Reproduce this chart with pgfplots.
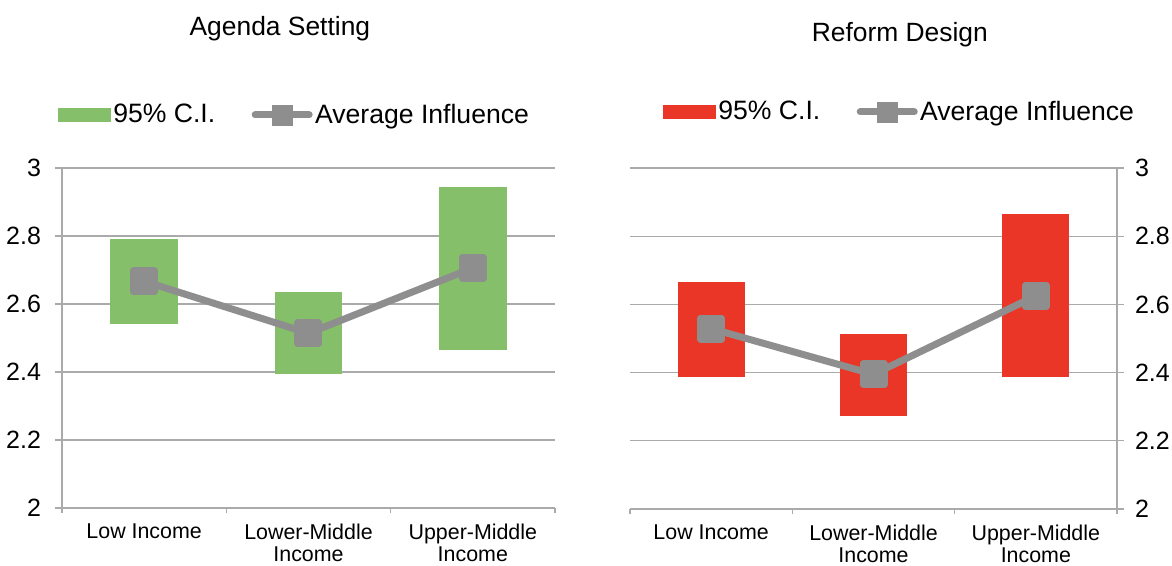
\documentclass[border=0pt]{standalone}
\usepackage{pgfplots}
\pgfplotsset{compat=1.18}
\usepackage{pgfplotstable}
\usepackage{fontspec}
\setmainfont{Liberation Sans}
\definecolor{cigreen}{RGB}{134,191,106}
\definecolor{cired}{RGB}{233,54,38}
\definecolor{avg}{RGB}{142,142,142}
\definecolor{gridgray}{RGB}{170,170,170}

\pgfplotstableread{
x lo hi mean
0 2.542 2.790 2.667
1 2.394 2.635 2.514
2 2.465 2.945 2.706
}\agenda
\pgfplotstableread{
x lo hi mean
0 2.388 2.666 2.529
1 2.274 2.513 2.395
2 2.386 2.864 2.625
}\reform

\pgfplotsset{
  common/.style={
    scale only axis,
    xmin=-0.5, xmax=2.5, ymin=2, ymax=3,
    ytick={2,2.2,2.4,2.6,2.8,3},
    xtick={0,1,2},
    xticklabels={Low Income,Lower-Middle\\Income,Upper-Middle\\Income},
    minor xtick={-0.5,0.5,1.5,2.5},
    major x tick style={draw=none},
    tick align=outside,
    major tick length=3.5pt,
    minor tick length=2.5pt,
    tick style={draw=gridgray, line width=0.6pt},
    ymajorgrids,
    grid style={draw=gridgray, line width=0.6pt},
    axis line style={draw=gridgray, line width=0.6pt},
    axis x line*=bottom,
    /pgf/number format/assume math mode=true,
    tick label style={font=\fontsize{12.5}{14}\selectfont},
    xticklabel style={font=\fontsize{10.7}{11}\selectfont, align=center, anchor=north, yshift=-1pt},
    title style={font=\fontsize{13.2}{15}\selectfont, anchor=center},
    legend columns=2,
    legend cell align=left,
    legend style={draw=none, fill=none, inner sep=0pt, outer sep=0pt,
      font=\fontsize{13.3}{15}\selectfont, anchor=west,
      nodes={inner sep=1.2pt}},
  },
}

\begin{document}
\begin{tikzpicture}
\path[use as bounding box] (0,0) rectangle (586pt,-283pt);

% Left: Agenda Setting
\begin{axis}[common,
  at={(31pt,-254pt)}, anchor=south west,
  width=246.5pt, height=170pt,
  axis y line*=left,
  yticklabel style={xshift=-3.5pt},
  title={Agenda Setting},
  title style={at={(axis description cs:0.442,1)}, yshift=63.5pt},
  legend style={at={(axis description cs:-0.008,1)}, yshift=26.5pt,
    /tikz/every even column/.append style={column sep=17pt}},
]
\addplot[draw=none, mark=none, forget plot,
  error bars/.cd, y dir=plus, y explicit, error mark=none,
  error bar style={draw=cigreen, line width=33.7pt}]
  table[x=x, y=lo, y error plus expr=\thisrow{hi}-\thisrow{lo}, y error minus expr=0] {\agenda};
\addplot[avg, line width=3.5pt, line join=round, forget plot,
  mark=square*, mark size=5.25pt, mark options={solid, draw=none, fill=avg}]
  table[x=x, y=mean] {\agenda};
\addlegendimage{legend image code/.code={\fill[cigreen] (0pt,-3.3pt) rectangle (26pt,3.3pt);}}
\addlegendentry{95\% C.I.}
\addlegendimage{legend image code/.code={\draw[avg, line width=3.5pt, line cap=round] (0pt,0pt) -- (27pt,0pt); \fill[avg] (8.5pt,-5pt) rectangle (18.5pt,5pt);}}
\addlegendentry{Average Influence}
\end{axis}

% Right: Reform Design
\begin{axis}[common,
  at={(315pt,-254.5pt)}, anchor=south west,
  width=243.5pt, height=170.5pt,
  axis y line*=right,
  yticklabel style={xshift=2pt},
  title={Reform Design},
  title style={at={(axis description cs:0.554,1)}, yshift=60.5pt},
  legend style={at={(axis description cs:0.068,1)}, yshift=28pt,
    /tikz/every even column/.append style={column sep=17pt}},
]
\addplot[draw=none, mark=none, forget plot,
  error bars/.cd, y dir=plus, y explicit, error mark=none,
  error bar style={draw=cired, line width=33.5pt}]
  table[x=x, y=lo, y error plus expr=\thisrow{hi}-\thisrow{lo}, y error minus expr=0] {\reform};
\addplot[avg, line width=3.5pt, line join=round, forget plot,
  mark=square*, mark size=5.25pt, mark options={solid, draw=none, fill=avg}]
  table[x=x, y=mean] {\reform};
\addlegendimage{legend image code/.code={\fill[cired] (0pt,-3.3pt) rectangle (26pt,3.3pt);}}
\addlegendentry{95\% C.I.}
\addlegendimage{legend image code/.code={\draw[avg, line width=3.5pt, line cap=round] (0pt,0pt) -- (27pt,0pt); \fill[avg] (8.5pt,-5pt) rectangle (18.5pt,5pt);}}
\addlegendentry{Average Influence}
\end{axis}
\end{tikzpicture}
\end{document}
